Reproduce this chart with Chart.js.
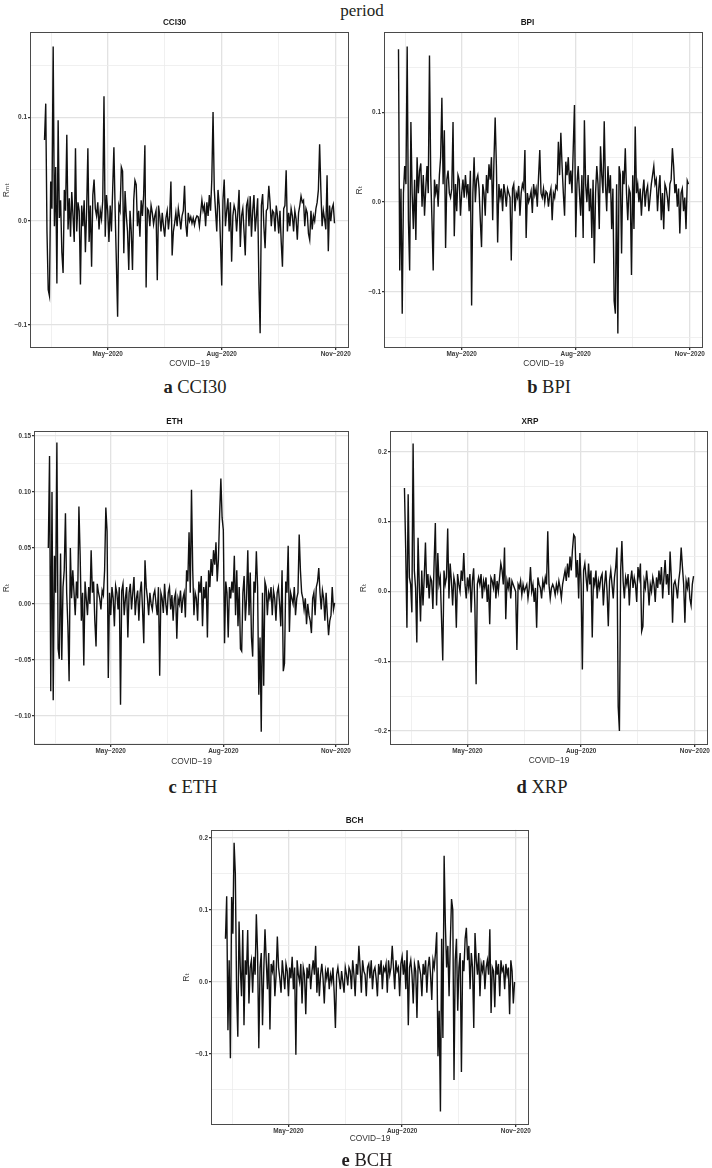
<!DOCTYPE html>
<html lang="en">
<head>
<meta charset="UTF-8">
<title>Returns during the COVID-19 period</title>
<script src="https://cdn.jsdelivr.net/npm/chart.js@4.4.0/dist/chart.umd.min.js"></script>
<style>
  body { margin: 0; width: 712px; height: 1168px; background: #fff; position: relative; overflow: hidden; }
  .panel { position: absolute; }
  .panel canvas { display: block; }
  .caption { position: absolute; transform: translate(-50%, -50%); white-space: nowrap;
             font-family: 'Liberation Serif', 'Times New Roman', serif; font-size: 18.5px; color: #231f20; }
</style>
</head>
<body>
<div class="caption" style="left:362px; top:11px; font-size:17px;">period</div>

<div class="panel" style="left:0px; top:14px;"><canvas id="cci30Chart" width="352" height="360"></canvas></div>
<div class="panel" style="left:352px; top:14px;"><canvas id="bpiChart" width="360" height="360"></canvas></div>
<div class="panel" style="left:0px; top:413px;"><canvas id="ethChart" width="352" height="358"></canvas></div>
<div class="panel" style="left:352px; top:413px;"><canvas id="xrpChart" width="360" height="358"></canvas></div>
<div class="panel" style="left:180px; top:812px;"><canvas id="bchChart" width="360" height="339"></canvas></div>

<div class="caption" style="left:195px; top:387px;"><b>a</b> CCI30</div>
<div class="caption" style="left:549px; top:387px;"><b>b</b> BPI</div>
<div class="caption" style="left:193px; top:787px;"><b>c</b> ETH</div>
<div class="caption" style="left:542px; top:787px;"><b>d</b> XRP</div>
<div class="caption" style="left:367px; top:1160px;"><b>e</b> BCH</div>

<script>
// daily returns, 11 Mar 2020 (day 0) .. 31 Oct 2020 (day 234)
const cci30 = [
  0.078, 0.113, -0.010, -0.066, -0.072, 0.038, 0.012, 0.168, -0.005, 0.052,
  -0.060, 0.097, 0.003, 0.020, -0.030, -0.050, 0.030, 0.010, 0.083, -0.008,
  0.022, -0.015, 0.028, 0.005, -0.020, 0.070, -0.010, 0.018, 0.010, -0.061,
  0.015, -0.005, 0.020, -0.030, 0.010, 0.070, -0.020, 0.015, -0.044, 0.025,
  0.040, 0.012, 0.005, 0.018, -0.008, 0.010, 0.002, 0.020, 0.120, -0.015,
  0.025, 0.010, -0.020, 0.015, -0.010, 0.030, 0.071, 0.010, -0.040, -0.092,
  0.015, 0.010, 0.052, 0.048, -0.031, 0.029, 0.005, -0.010, -0.047, 0.010,
  -0.010, -0.047, 0.020, 0.039, 0.035, -0.005, 0.010, -0.015, 0.020, 0.005,
  0.025, 0.073, -0.064, 0.012, 0.010, -0.005, 0.015, 0.008, -0.003, 0.005,
  0.010, -0.057, 0.015, 0.005, -0.010, 0.008, -0.005, -0.015, 0.003, 0.010,
  -0.008, 0.005, 0.038, -0.033, -0.010, -0.002, 0.008, -0.005, 0.012, 0.003,
  -0.008, 0.005, 0.010, 0.034, -0.003, -0.015, 0.008, 0.000, 0.004, -0.002,
  0.003, -0.004, 0.002, 0.005, 0.004, -0.005, 0.008, 0.020, 0.010, 0.015,
  -0.005, 0.018, 0.005, 0.025, 0.010, 0.040, 0.105, 0.030, 0.010, -0.010,
  0.030, 0.015, -0.020, -0.062, 0.020, 0.040, -0.005, 0.010, 0.022, -0.010,
  0.018, -0.039, 0.005, 0.015, 0.010, -0.010, 0.008, 0.030, -0.025, 0.005,
  0.012, -0.010, -0.033, 0.015, 0.020, -0.005, 0.024, -0.015, 0.010, 0.025,
  -0.010, 0.005, 0.022, -0.060, -0.108, 0.015, 0.026, -0.005, -0.026, 0.010,
  0.012, 0.034, 0.018, -0.005, 0.010, 0.008, -0.010, 0.015, 0.005, -0.012,
  0.010, -0.020, -0.044, 0.012, 0.015, 0.049, -0.010, 0.008, -0.005, 0.012,
  0.005, -0.010, 0.010, 0.002, -0.018, 0.008, 0.015, 0.024, 0.018, 0.020,
  -0.005, 0.012, 0.008, -0.012, -0.018, 0.010, -0.008, 0.005, 0.000, 0.012,
  0.018, 0.030, 0.074, 0.030, -0.005, 0.010, 0.002, -0.008, 0.044, -0.029,
  0.015, 0.000, 0.012, 0.016, -0.002
];

const bpi = [
  0.170, -0.076, 0.015, -0.124, 0.010, 0.040, 0.020, 0.173, -0.020, -0.076,
  0.089, 0.010, -0.030, 0.025, -0.042, 0.050, 0.010, 0.035, 0.043, -0.005,
  0.030, -0.015, 0.015, 0.040, 0.010, 0.163, 0.030, -0.020, -0.076, 0.025,
  0.010, 0.020, -0.005, 0.030, 0.050, 0.116, 0.020, 0.080, -0.051, 0.025,
  0.035, 0.010, 0.005, 0.015, 0.089, -0.038, 0.020, -0.010, 0.030, 0.025,
  -0.015, 0.010, 0.025, 0.005, 0.030, 0.010, 0.020, -0.010, 0.035, -0.115,
  0.010, 0.050, 0.000, 0.025, 0.030, 0.015, -0.020, -0.050, 0.020, 0.010,
  -0.015, 0.030, 0.010, 0.042, 0.025, 0.050, -0.020, 0.045, 0.094, 0.040,
  -0.045, 0.020, 0.005, 0.015, -0.010, 0.020, 0.010, -0.005, 0.015, 0.010,
  0.005, -0.065, 0.015, 0.020, -0.010, 0.010, 0.005, 0.018, -0.015, 0.010,
  0.020, 0.015, 0.058, -0.040, 0.010, 0.000, 0.005, 0.012, -0.012, 0.020,
  0.008, 0.015, -0.005, 0.028, 0.058, 0.010, 0.005, 0.015, 0.000, 0.012,
  0.010, -0.005, 0.008, 0.015, -0.020, 0.010, 0.005, 0.018, 0.015, 0.067,
  0.030, 0.077, 0.040, 0.010, -0.015, 0.045, 0.030, 0.050, 0.020, 0.035,
  0.010, 0.060, 0.108, -0.039, 0.020, 0.040, 0.010, -0.015, 0.030, -0.040,
  0.091, 0.020, 0.000, 0.030, -0.010, 0.015, -0.040, 0.025, -0.068, 0.010,
  0.040, 0.020, -0.030, 0.062, 0.030, 0.010, 0.090, 0.020, -0.010, 0.040,
  0.010, 0.030, -0.030, 0.015, -0.110, -0.124, 0.020, -0.146, 0.040, 0.030,
  -0.057, 0.035, 0.020, 0.060, 0.010, -0.020, 0.015, 0.010, -0.081, 0.030,
  -0.030, 0.084, 0.010, 0.020, 0.000, 0.015, -0.015, 0.010, 0.025, -0.005,
  0.012, 0.018, -0.010, 0.005, 0.020, 0.030, 0.040, 0.020, 0.025, -0.010,
  0.015, 0.030, -0.020, 0.010, -0.030, 0.020, 0.015, 0.005, -0.010, 0.020,
  0.025, 0.060, 0.040, 0.010, 0.020, -0.005, 0.015, -0.035, 0.010, 0.015,
  -0.010, 0.005, -0.030, 0.024, 0.020
];

const eth = [
  0.050, 0.132, -0.078, 0.100, -0.086, 0.043, 0.010, 0.144, -0.040, -0.049,
  0.045, -0.050, 0.015, 0.030, 0.081, 0.010, -0.020, -0.069, 0.050, 0.005,
  0.030, 0.010, -0.010, 0.020, 0.005, 0.087, 0.044, -0.015, 0.010, -0.055,
  0.020, 0.005, -0.010, 0.015, 0.000, 0.048, 0.010, 0.020, -0.015, -0.038,
  0.018, 0.010, 0.005, -0.005, 0.012, 0.008, 0.030, 0.086, 0.065, -0.066,
  0.010, -0.010, 0.015, 0.005, -0.020, 0.016, 0.010, -0.005, 0.015, -0.090,
  0.012, 0.018, -0.010, 0.005, 0.015, -0.030, 0.010, 0.018, -0.005, 0.010,
  0.024, -0.010, 0.005, 0.012, -0.015, 0.010, 0.020, -0.005, -0.035, 0.039,
  0.015, 0.005, -0.010, 0.010, 0.000, -0.005, 0.008, 0.012, 0.000, -0.010,
  0.015, -0.064, 0.010, 0.005, -0.008, 0.018, 0.000, -0.010, 0.010, 0.015,
  -0.005, 0.008, -0.015, 0.005, 0.010, -0.031, 0.005, 0.000, 0.012, -0.008,
  0.005, 0.010, -0.012, 0.030, 0.020, 0.064, 0.010, 0.102, 0.030, -0.010,
  0.010, 0.005, -0.015, 0.020, 0.010, 0.025, -0.020, 0.015, 0.005, 0.020,
  -0.030, 0.030, 0.015, 0.040, 0.025, 0.048, 0.035, 0.055, 0.020, 0.040,
  0.080, 0.112, 0.077, 0.066, -0.035, 0.020, 0.010, -0.030, 0.015, 0.005,
  0.020, 0.010, 0.043, -0.010, 0.030, -0.020, 0.015, -0.040, -0.042, 0.010,
  0.025, -0.015, 0.005, 0.048, -0.010, 0.028, -0.030, -0.047, 0.020, 0.010,
  0.047, 0.015, -0.081, -0.030, -0.114, 0.010, -0.073, 0.020, 0.015, -0.010,
  0.010, 0.005, 0.015, -0.010, 0.012, 0.005, -0.015, 0.010, 0.015, 0.000,
  -0.020, 0.030, -0.060, -0.053, 0.020, 0.010, 0.052, -0.025, 0.010, 0.005,
  0.000, 0.015, -0.010, 0.005, 0.010, 0.062, 0.030, 0.010, 0.005, -0.005,
  0.005, -0.018, 0.000, -0.010, -0.015, -0.026, 0.005, 0.010, -0.010, 0.015,
  0.020, 0.032, 0.010, -0.005, 0.012, 0.005, -0.015, 0.010, -0.010, -0.028,
  -0.015, -0.010, 0.015, -0.005, 0.001
];

const xrp = [
  0.148, 0.060, -0.052, 0.139, 0.020, 0.010, -0.030, 0.212, 0.030, 0.005,
  -0.073, 0.077, 0.010, -0.043, 0.030, -0.020, 0.020, 0.070, 0.005, 0.025,
  -0.010, 0.020, 0.015, -0.025, 0.040, 0.098, -0.020, 0.055, 0.010, 0.020,
  -0.040, -0.099, 0.030, 0.010, 0.020, 0.090, -0.010, 0.040, 0.015, -0.020,
  0.020, 0.010, -0.052, 0.025, 0.010, 0.000, 0.030, 0.015, 0.055, 0.010,
  -0.010, 0.020, 0.005, 0.025, -0.030, 0.015, 0.033, -0.020, -0.133, 0.010,
  0.020, 0.010, 0.025, -0.010, 0.015, 0.005, 0.020, -0.015, 0.010, -0.047,
  0.020, 0.015, 0.005, 0.025, -0.010, 0.015, 0.000, 0.020, 0.040, 0.030,
  0.010, 0.063, -0.040, 0.015, 0.005, 0.020, -0.010, 0.015, 0.010, 0.005,
  0.000, -0.084, 0.010, 0.005, 0.015, -0.005, 0.010, 0.000, 0.005, 0.010,
  -0.010, 0.005, 0.035, 0.000, 0.010, -0.015, 0.005, -0.052, 0.020, 0.010,
  0.005, -0.010, 0.015, 0.005, 0.020, 0.010, 0.086, 0.010, -0.010, 0.005,
  0.010, 0.005, -0.005, 0.010, 0.000, 0.015, 0.005, -0.010, 0.010, 0.020,
  0.030, 0.015, 0.040, 0.020, 0.050, 0.030, 0.060, 0.081, 0.078, 0.020,
  0.045, -0.010, 0.055, 0.010, -0.112, 0.030, 0.040, 0.020, 0.000, 0.040,
  0.010, 0.030, -0.066, 0.020, 0.010, 0.030, -0.010, 0.015, 0.005, 0.020,
  0.025, -0.020, 0.010, 0.030, 0.000, -0.050, 0.015, 0.030, 0.010, -0.010,
  0.020, 0.035, 0.063, -0.165, -0.200, 0.030, 0.072, 0.015, -0.010, 0.020,
  0.010, 0.025, -0.020, 0.015, 0.030, 0.005, 0.020, 0.010, -0.015, 0.035,
  0.020, 0.040, -0.057, -0.050, 0.015, 0.005, 0.030, 0.010, -0.020, 0.010,
  0.000, 0.020, 0.010, -0.015, 0.020, 0.005, 0.030, 0.010, 0.035, -0.010,
  0.020, 0.045, 0.010, 0.025, -0.005, 0.057, 0.020, -0.045, 0.010, 0.015,
  0.005, -0.010, 0.015, 0.030, 0.063, 0.035, 0.010, -0.045, 0.015, 0.005,
  0.020, -0.010, -0.020, 0.010, 0.022
];

const bch = [
  0.060, 0.119, -0.067, 0.030, -0.106, 0.118, 0.067, 0.193, 0.150, -0.010,
  -0.076, 0.084, 0.020, -0.020, 0.072, -0.060, 0.030, 0.010, 0.072, -0.030,
  0.020, 0.030, -0.015, 0.035, 0.010, 0.094, 0.040, -0.092, 0.020, 0.040,
  -0.060, 0.015, 0.073, 0.030, -0.010, 0.040, -0.066, 0.025, 0.015, 0.030,
  -0.020, 0.010, 0.063, 0.020, 0.005, -0.015, 0.030, 0.010, -0.010, 0.025,
  0.015, -0.020, 0.020, 0.005, 0.035, -0.010, 0.020, -0.101, 0.030, 0.010,
  0.000, 0.025, -0.030, 0.020, 0.010, -0.045, 0.020, 0.005, 0.025, -0.010,
  0.015, 0.030, 0.010, 0.050, -0.015, 0.020, -0.020, 0.010, 0.025, 0.005,
  -0.030, 0.015, 0.005, 0.020, -0.010, 0.010, 0.000, 0.020, -0.015, -0.064,
  0.010, 0.020, 0.005, -0.010, 0.015, 0.000, -0.015, 0.020, 0.010, -0.005,
  0.020, 0.015, -0.010, 0.030, 0.010, -0.020, 0.025, 0.010, 0.050, 0.020,
  -0.015, 0.030, 0.015, 0.010, -0.020, 0.020, 0.025, 0.005, 0.030, -0.010,
  0.015, 0.020, 0.005, -0.020, 0.025, 0.010, 0.030, -0.010, 0.020, 0.015,
  0.025, -0.015, 0.030, 0.010, 0.020, 0.050, 0.020, -0.010, 0.030, 0.015,
  0.020, -0.020, 0.025, 0.035, 0.010, 0.030, -0.010, 0.044, -0.060, 0.020,
  0.030, 0.010, -0.030, 0.025, 0.015, -0.050, 0.030, 0.020, 0.010, -0.020,
  0.025, 0.010, 0.030, -0.015, 0.020, 0.035, 0.010, -0.025, 0.030, 0.020,
  0.040, 0.069, -0.103, -0.040, -0.180, 0.060, -0.078, 0.175, 0.080, 0.020,
  0.050, -0.020, 0.055, 0.115, 0.100, -0.136, 0.030, 0.060, -0.040, 0.020,
  0.040, -0.125, 0.030, 0.015, 0.060, 0.075, 0.030, 0.050, -0.010, 0.040,
  0.020, -0.064, 0.068, 0.030, 0.010, 0.040, -0.020, 0.025, 0.015, 0.030,
  -0.010, 0.020, 0.030, 0.010, 0.073, -0.043, 0.020, 0.015, -0.035, 0.030,
  0.010, 0.025, -0.020, 0.030, 0.015, 0.020, -0.010, 0.025, 0.010, 0.020,
  -0.045, 0.030, 0.015, -0.030, 0.000
];

// x axis: day numbers counted from 11 Mar 2020
const xMajorDays = [51, 143, 235];
const xMajorLabels = ['May\u22122020', 'Aug\u22122020', 'Nov\u22122020'];
const xMinorDays = [6, 97, 189];

const cci30YMajor = [-0.1, 0, 0.1];
const cci30YLabels = ['\u22120.1', '0.0', '0.1'];
const cci30YMinor = [-0.05, 0.05, 0.15];

const bpiYMajor = [-0.1, 0, 0.1];
const bpiYLabels = ['\u22120.1', '0.0', '0.1'];
const bpiYMinor = [-0.15, -0.05, 0.05, 0.15];

const ethYMajor = [-0.10, -0.05, 0, 0.05, 0.10, 0.15];
const ethYLabels = ['\u22120.10', '\u22120.05', '0.00', '0.05', '0.10', '0.15'];
const ethYMinor = [-0.125, -0.075, -0.025, 0.025, 0.075, 0.125];

const xrpYMajor = [-0.2, -0.1, 0, 0.1, 0.2];
const xrpYLabels = ['\u22120.2', '\u22120.1', '0.0', '0.1', '0.2'];
const xrpYMinor = [-0.15, -0.05, 0.05, 0.15];

const bchYMajor = [-0.1, 0, 0.1, 0.2];
const bchYLabels = ['\u22120.1', '0.0', '0.1', '0.2'];
const bchYMinor = [-0.15, -0.05, 0.05, 0.15];

Chart.defaults.font.family = "'Liberation Sans', 'DejaVu Sans', Arial, sans-serif";

function has(list, v) {
    return list.some(t => Math.abs(t - v) < 1e-9);
}

// dark frame round the plot area, like theme_bw
const panelBorder = {
    id: 'panelBorder',
    afterDraw(chart) {
        const { ctx, chartArea: a } = chart;
        ctx.save();
        ctx.strokeStyle = '#4a4a4a';
        ctx.lineWidth = 1;
        ctx.strokeRect(Math.round(a.left) + 0.5, Math.round(a.top) + 0.5,
                       Math.round(a.right - a.left) - 1, Math.round(a.bottom - a.top) - 1);
        ctx.restore();
    }
};

function drawPanel(p) {
    const xTicks = xMajorDays.concat(xMinorDays).sort((a, b) => a - b);
    const yTicks = p.yMajor.concat(p.yMinor).sort((a, b) => a - b);
    const points = p.values.map((v, i) => ({ x: i, y: v }));

    new Chart(document.getElementById(p.id), {
        type: 'line',
        data: {
            datasets: [{
                data: points,
                borderColor: '#111',
                borderWidth: 1.4,
                pointRadius: 0,
                tension: 0,
                fill: false
            }]
        },
        options: {
            responsive: false,
            animation: false,
            events: [],
            layout: { padding: { left: 0, top: 0, right: p.rightPad, bottom: 0 } },
            plugins: {
                legend: { display: false },
                tooltip: { enabled: false },
                title: {
                    display: true,
                    text: p.title,
                    color: '#1a1a1a',
                    font: { size: 8.2, weight: 'bold' },
                    padding: p.titlePad
                }
            },
            scales: {
                x: {
                    type: 'linear',
                    min: -11.7,
                    max: 245.7,
                    afterBuildTicks: s => { s.ticks = xTicks.map(v => ({ value: v })); },
                    afterFit: s => { s.height = 26; },
                    border: { display: false },
                    grid: {
                        color: c => (c.tick && has(xMajorDays, c.tick.value)) ? '#e2e2e2' : '#ececec',
                        lineWidth: c => (c.tick && has(xMajorDays, c.tick.value)) ? 1.3 : 0.8,
                        tickLength: 2,
                        tickColor: c => (c.tick && has(xMajorDays, c.tick.value)) ? '#333' : 'rgba(0,0,0,0)'
                    },
                    ticks: {
                        autoSkip: false,
                        maxRotation: 0,
                        padding: 0,
                        color: '#3a3a3a',
                        font: { size: 6.4, weight: 'bold' },
                        callback: v => {
                            const i = xMajorDays.indexOf(v);
                            return i < 0 ? '' : xMajorLabels[i];
                        }
                    },
                    title: {
                        display: true,
                        text: 'COVID\u221219',
                        color: '#333',
                        font: { size: 8.4 },
                        padding: { top: 0, bottom: p.xTitlePad }
                    }
                },
                y: {
                    min: p.yMin,
                    max: p.yMax,
                    afterBuildTicks: s => { s.ticks = yTicks.map(v => ({ value: v })); },
                    afterFit: s => { s.width = p.yAxisWidth; },
                    border: { display: false },
                    grid: {
                        color: c => (c.tick && has(p.yMajor, c.tick.value)) ? '#e2e2e2' : '#ececec',
                        lineWidth: c => (c.tick && has(p.yMajor, c.tick.value)) ? 1.3 : 0.8,
                        tickLength: 2,
                        tickColor: c => (c.tick && has(p.yMajor, c.tick.value)) ? '#333' : 'rgba(0,0,0,0)'
                    },
                    ticks: {
                        autoSkip: false,
                        padding: 1,
                        color: '#3a3a3a',
                        font: { size: 6.4, weight: 'bold' },
                        callback: v => {
                            const i = p.yMajor.findIndex(t => Math.abs(t - v) < 1e-9);
                            return i < 0 ? '' : p.yLabels[i];
                        }
                    },
                    title: {
                        display: true,
                        text: p.yTitle,
                        color: '#333',
                        font: { size: 8.6 },
                        padding: { top: p.yTitlePad, bottom: 0 }
                    }
                }
            }
        },
        plugins: [panelBorder]
    });
}

const panels = [
    { id: 'cci30Chart', title: 'CCI30', yTitle: 'R\u2098\u209C', values: cci30,
      yMajor: cci30YMajor, yLabels: cci30YLabels, yMinor: cci30YMinor, yMin: -0.1221, yMax: 0.1817,
      yAxisWidth: 30, rightPad: 3, titlePad: { top: 4, bottom: 4.4 }, yTitlePad: 1.0, xTitlePad: 5.3 },
    { id: 'bpiChart', title: 'BPI', yTitle: 'R\u209C', values: bpi,
      yMajor: bpiYMajor, yLabels: bpiYLabels, yMinor: bpiYMinor, yMin: -0.1622, yMax: 0.1889,
      yAxisWidth: 32, rightPad: 9, titlePad: { top: 4, bottom: 4.4 }, yTitlePad: 2.0, xTitlePad: 5.6 },
    { id: 'ethChart', title: 'ETH', yTitle: 'R\u209C', values: eth,
      yMajor: ethYMajor, yLabels: ethYLabels, yMinor: ethYMinor, yMin: -0.1259, yMax: 0.1545,
      yAxisWidth: 34, rightPad: 3, titlePad: { top: 4, bottom: 4 }, yTitlePad: 1.5, xTitlePad: 4.3 },
    { id: 'xrpChart', title: 'XRP', yTitle: 'R\u209C', values: xrp,
      yMajor: xrpYMajor, yLabels: xrpYLabels, yMinor: xrpYMinor, yMin: -0.22, yMax: 0.23,
      yAxisWidth: 38, rightPad: 4, titlePad: { top: 4, bottom: 4 }, yTitlePad: 6.5, xTitlePad: 4.9 },
    { id: 'bchChart', title: 'BCH', yTitle: 'R\u209C', values: bch,
      yMajor: bchYMajor, yLabels: bchYLabels, yMinor: bchYMinor, yMin: -0.1986, yMax: 0.2111,
      yAxisWidth: 31, rightPad: 11, titlePad: { top: 4, bottom: 4 }, yTitlePad: 1.5, xTitlePad: 7 }
];

panels.forEach(drawPanel);
</script>
</body>
</html>
